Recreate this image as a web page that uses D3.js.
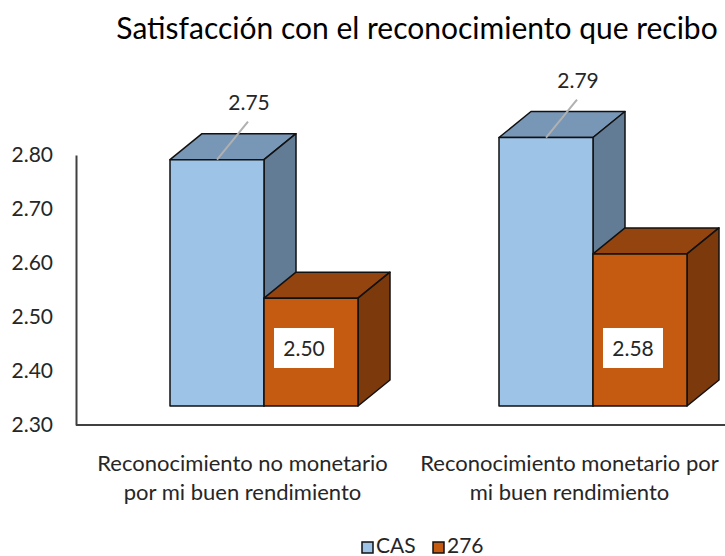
<!DOCTYPE html>
<html>
<head>
<meta charset="utf-8">
<script src="https://cdn.jsdelivr.net/npm/d3@7"></script>
<style>
  body { margin: 0; background: #fff; }
  svg text { font-family: Lato, "Open Sans", sans-serif; fill: #262626; }
</style>
</head>
<body>
<div id="grafico"></div>
<script>
// datos
var categorias = ["Reconocimiento no monetario por mi buen rendimiento", "Reconocimiento monetario por mi buen rendimiento"];
var lineas_categoria = [["Reconocimiento no monetario", "por mi buen rendimiento"], ["Reconocimiento monetario por", "mi buen rendimiento"]];
var series = ["CAS", "276"];
var valores_cas = [2.75, 2.79];
var valores_276 = [2.50, 2.58];
var ticks_y = [2.30, 2.40, 2.50, 2.60, 2.70, 2.80];

var width = 725, height = 556;
var colores = {
    "CAS": { frente: "#9dc3e6", arriba: "#7896b6", lado: "#637c96" },
    "276": { frente: "#c55a11", arriba: "#93440f", lado: "#7b390c" }
};
var dx = 32, dy = -26;   // profundidad 3d
var piso = 406;

var svg = d3.select("#grafico")
            .append("svg")
            .attr("width", width)
            .attr("height", height);

// titulo
svg.append("text")
    .attr("x", 417)
    .attr("y", 39)
    .attr("text-anchor", "middle")
    .style("font-size", "30px")
    .style("fill", "#000")
    .text("Satisfacción con el reconocimiento que recibo");

// escalas
var x = d3.scaleBand().domain(categorias).range([70, 728]);
var xs = d3.scaleBand().domain(series).range([100, 288]);
var y_barra = d3.scaleLinear().domain([2.30, 2.80]).range([409, 132]);
var y_eje = d3.scaleLinear().domain([2.30, 2.80]).range([425, 155]);

// eje y
var eje = svg.append("g")
    .attr("transform", "translate(76,0)")
    .call(d3.axisLeft(y_eje).tickValues(ticks_y).tickSize(0).tickPadding(23).tickFormat(d3.format(".2f")));
eje.select(".domain").attr("stroke", "#404040").attr("stroke-width", 2);
eje.selectAll("text").style("font-size", "21px").style("font-family", "Lato, sans-serif").attr("fill", "#262626");

// eje x
svg.append("line")
    .attr("x1", 76).attr("x2", width)
    .attr("y1", y_eje(2.30)).attr("y2", y_eje(2.30))
    .attr("stroke", "#404040")
    .attr("stroke-width", 2);

// barras 3d
var datos = [];
categorias.forEach(function(c, i){
    datos.push({ cat: c, serie: "CAS", valor: valores_cas[i] });
    datos.push({ cat: c, serie: "276", valor: valores_276[i] });
});

var barras = svg.append("g").attr("class", "barras");

datos.forEach(function(d){
    var x0 = x(d.cat) + xs(d.serie);
    var x1 = x0 + xs.bandwidth();
    var yt = y_barra(d.valor);
    var col = colores[d.serie];
    var g = barras.append("g");

    g.append("polygon")
        .attr("points", [[x0, yt], [x0 + dx, yt + dy], [x1 + dx, yt + dy], [x1, yt]].join(" "))
        .attr("fill", col.arriba);
    g.append("polygon")
        .attr("points", [[x1, yt], [x1 + dx, yt + dy], [x1 + dx, piso + dy], [x1, piso]].join(" "))
        .attr("fill", col.lado);
    g.append("rect")
        .attr("x", x0).attr("y", yt)
        .attr("width", x1 - x0).attr("height", piso - yt)
        .attr("fill", col.frente);
    g.selectAll("polygon, rect")
        .attr("stroke", "#111")
        .attr("stroke-width", 1.5)
        .attr("stroke-linejoin", "round");
});

// etiquetas de datos
datos.forEach(function(d){
    var x0 = x(d.cat) + xs(d.serie);
    var xc = x0 + xs.bandwidth() / 2;
    var yt = y_barra(d.valor);
    if (d.serie == "CAS") {
        svg.append("line")
            .attr("x1", xc).attr("y1", yt)
            .attr("x2", xc + 31).attr("y2", yt - 38)
            .attr("stroke", "#b0b0b0")
            .attr("stroke-width", 2);
        svg.append("text")
            .attr("x", xc + 32)
            .attr("y", yt - 50)
            .attr("text-anchor", "middle")
            .style("font-size", "21px")
            .text(d3.format(".2f")(d.valor));
    } else {
        var cx = xc - 7, cy = piso - 58;
        svg.append("rect")
            .attr("x", cx - 30).attr("y", cy - 20)
            .attr("width", 60).attr("height", 40)
            .attr("fill", "#fff");
        svg.append("text")
            .attr("x", cx)
            .attr("y", cy + 8)
            .attr("text-anchor", "middle")
            .style("font-size", "21px")
            .text(d3.format(".2f")(d.valor));
    }
});

// etiquetas de categorias
categorias.forEach(function(c, i){
    var cx = x(c) + x.bandwidth() / 2 + 8 - i * 2;
    var t = svg.append("text")
        .attr("x", cx)
        .attr("y", 471)
        .attr("text-anchor", "middle")
        .style("font-size", "22px");
    lineas_categoria[i].forEach(function(l, j){
        t.append("tspan")
            .attr("x", cx)
            .attr("dy", j == 0 ? 0 : 29)
            .text(l);
    });
});

// leyenda
var leyenda = svg.append("g").attr("transform", "translate(362,542)");
series.forEach(function(s, i){
    var item = leyenda.append("g").attr("transform", "translate(" + (i * 71) + ",0)");
    item.append("rect")
        .attr("width", 11).attr("height", 11)
        .attr("fill", colores[s].frente)
        .attr("stroke", "#111")
        .attr("stroke-width", 1.5);
    item.append("text")
        .attr("x", 14)
        .attr("y", 11)
        .style("font-size", "21px")
        .text(s);
});
</script>
</body>
</html>
